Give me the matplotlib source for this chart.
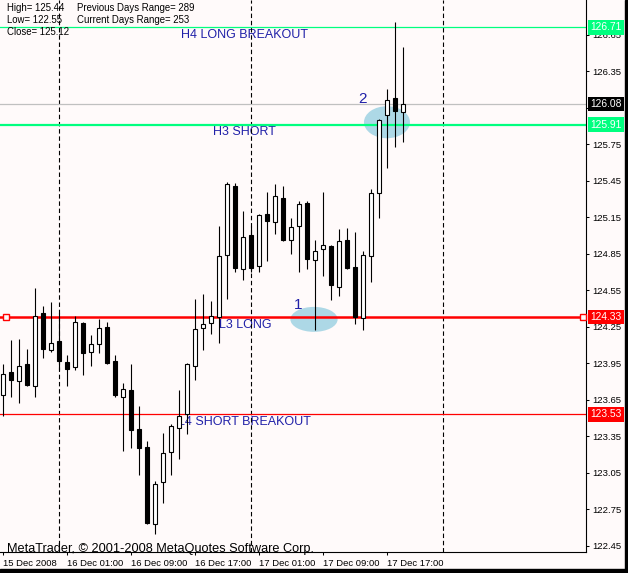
import matplotlib
matplotlib.use('Agg')
import matplotlib.pyplot as plt
from matplotlib.patches import Rectangle, Ellipse
import numpy as np

# ---------------- data ----------------
time_labels = ['15 Dec 2008', '16 Dec 01:00', '16 Dec 09:00', '16 Dec 17:00',
               '17 Dec 01:00', '17 Dec 09:00', '17 Dec 17:00']
label_bars = [0, 8, 16, 24, 32, 40, 48]
day_start_bars = [7, 31, 55]

opens = [123.69, 123.88, 123.80, 123.94, 123.76, 124.36, 124.06, 124.13, 123.96, 123.92,
         124.28, 124.04, 124.11, 124.25, 123.97, 123.67, 123.73, 123.41, 123.26, 122.63,
         122.97, 123.22, 123.42, 123.53, 123.93, 124.24, 124.28, 124.33, 124.84, 125.41,
         124.72, 125.00, 124.75, 125.18, 125.11, 125.31, 124.96, 125.08, 125.27, 124.80,
         124.89, 124.91, 124.58, 124.96, 124.74, 124.32, 124.83, 125.35, 125.99, 126.13,
         126.01]
highs = [123.94, 124.14, 124.15, 124.07, 124.57, 124.42, 124.45, 124.36, 124.02, 124.34,
         124.29, 124.18, 124.31, 124.29, 124.02, 123.79, 123.94, 123.60, 123.31, 122.98,
         123.38, 123.45, 123.73, 123.95, 124.48, 124.52, 124.46, 125.08, 125.44, 125.43,
         125.20, 125.08, 125.18, 125.36, 125.42, 125.41, 125.14, 125.28, 125.28, 124.96,
         125.36, 124.92, 125.05, 125.06, 125.03, 124.87, 125.38, 125.96, 126.20, 126.75,
         126.55]
lows = [123.52, 123.67, 123.62, 123.76, 123.67, 123.99, 124.04, 123.89, 123.76, 123.89,
        123.85, 123.93, 124.03, 123.94, 123.67, 123.23, 123.25, 123.03, 122.63, 122.55,
        122.80, 123.03, 123.16, 123.37, 123.81, 124.06, 124.19, 124.12, 124.48, 124.70,
        124.63, 124.70, 124.70, 124.79, 125.01, 124.95, 124.85, 124.70, 124.72, 124.22,
        124.67, 124.47, 124.50, 124.72, 124.27, 124.22, 124.62, 125.14, 125.55, 125.73,
        125.77]
closes = [123.86, 123.81, 123.93, 123.77, 124.34, 124.07, 124.12, 123.97, 123.90, 124.29,
          124.03, 124.11, 124.24, 123.95, 123.69, 123.74, 123.40, 123.25, 122.64, 122.96,
          123.21, 123.43, 123.52, 123.94, 124.23, 124.27, 124.34, 124.83, 125.42, 124.73,
          124.99, 124.73, 125.17, 125.12, 125.32, 124.96, 125.07, 125.26, 124.81, 124.87,
          124.92, 124.59, 124.95, 124.73, 124.33, 124.84, 125.35, 125.95, 126.11, 126.02,
          126.08]

level_prices = [126.71, 125.91, 124.33, 123.53]
level_names = ['H4 LONG BREAKOUT', 'H3 SHORT', 'L3 LONG', 'L4 SHORT BREAKOUT']
current_price = 126.08

prev_high, prev_low, prev_close = 125.44, 122.55, 125.12
prev_range, cur_range = 289, 253

price_ticks = [122.45, 122.75, 123.05, 123.35, 123.65, 123.95, 124.25, 124.55,
               124.85, 125.15, 125.45, 125.75, 126.05, 126.35, 126.65]

# marked zones (bar, price) and their numbers
zone_centers = [(38.84, 124.31), (47.96, 125.93)]
zone_sizes = [(5.9, 0.205), (5.75, 0.263)]
zone_marks = [('1', 36.84, 124.43), ('2', 44.9, 126.12)]

# ---------------- figure ----------------
W, H, DPI = 628, 573, 100
BG = '#FFFAFA'
BLUE = '#2020A8'
GREEN = '#00FF7F'
plt.rcParams['font.family'] = ['Liberation Sans', 'DejaVu Sans']

fig = plt.figure(figsize=(W / DPI, H / DPI), dpi=DPI, facecolor=BG)
ax = fig.add_axes([0, 21 / H, 586 / W, 552 / H], facecolor=BG)

ax.set_xlim(-0.4125, 72.84)
ax.set_ylim(122.3986, 126.9343)

for s in ['left', 'top']:
    ax.spines[s].set_visible(False)
for s in ['right', 'bottom']:
    ax.spines[s].set_linewidth(0.8)
    ax.spines[s].set_color('black')

ax.yaxis.tick_right()
ax.set_yticks(price_ticks)
ax.set_yticklabels(['%.2f' % p for p in price_ticks])
ax.set_xticks(label_bars)
ax.set_xticklabels(time_labels)
for lbl in ax.get_xticklabels():
    lbl.set_ha('left')
ax.tick_params(axis='both', direction='out', length=2.5, width=0.75,
               labelsize=6.8, colors='black')
ax.tick_params(axis='y', pad=2)
ax.tick_params(axis='x', pad=2.5)

# day separators
for d in day_start_bars:
    ax.axvline(d, color='black', lw=0.8, ls=(0, (4, 2.5)), zorder=1)

# zones
for (cx, cy), (w, h) in zip(zone_centers, zone_sizes):
    ax.add_patch(Ellipse((cx, cy), w, h, fc='#ADD8E6', ec='none', zorder=0.5))
for t, x, y in zone_marks:
    ax.text(x, y, t, fontsize=11, color=BLUE, ha='center', va='center', zorder=0.6)

# level lines
ax.axhline(level_prices[0], color=GREEN, lw=0.9, zorder=1.5)
ax.axhline(level_prices[1], color=GREEN, lw=1.6, zorder=1.5)
ax.axhline(level_prices[2], color='red', lw=1.8, zorder=1.5)
ax.axhline(level_prices[3], color='red', lw=0.9, zorder=1.5)
ax.axhline(current_price, color='#C0C0C0', lw=0.9, zorder=1.4)
ax.plot([5.8 / 586, 583 / 586], [level_prices[2]] * 2, ls='none', marker='s', ms=4,
        mfc=BG, mec='red', mew=1.0, transform=ax.get_yaxis_transform(), zorder=6,
        clip_on=False)

# level texts
for p, name in zip(level_prices, level_names):
    ax.annotate(name, xy=(30.2, p), xytext=(0, -5.5), textcoords='offset points',
                ha='center', va='center', fontsize=9, color=BLUE, zorder=0.7)

# candles
for i, (o, h, l, c) in enumerate(zip(opens, highs, lows, closes)):
    ax.vlines(i, l, h, color='black', lw=0.8, zorder=3)
    bull = c >= o
    ax.add_patch(Rectangle((i - 0.25, min(o, c)), 0.5, max(abs(c - o), 0.004),
                           fc='white' if bull else 'black', ec='black', lw=0.8, zorder=4))

# price boxes on axis
box_items = [(level_prices[0], GREEN), (current_price, 'black'),
             (level_prices[1], GREEN), (level_prices[2], 'red'), (level_prices[3], 'red')]
for p, col in box_items:
    ax.text(1.0 + 4 / 586, p, '%.2f' % p, transform=ax.get_yaxis_transform(),
            ha='left', va='center', fontsize=7.4, color='white', zorder=10, clip_on=False,
            bbox=dict(boxstyle='square,pad=0.22', fc=col, ec='none'))

# info text
def ftext(x, y, s, **kw):
    fig.text(x / W, 1 - y / H, s, **kw)

INFO_FS = 6.9
ftext(7, 8, 'High= %.2f' % prev_high, fontsize=INFO_FS, va='center')
ftext(77, 8, 'Previous Days Range= %d' % prev_range, fontsize=INFO_FS, va='center')
ftext(7, 20, 'Low= %.2f' % prev_low, fontsize=INFO_FS, va='center')
ftext(77, 20, 'Current Days Range= %d' % cur_range, fontsize=INFO_FS, va='center')
ftext(7, 32, 'Close= %.2f' % prev_close, fontsize=INFO_FS, va='center')
ftext(6.7, 552, 'MetaTrader, \u00a9 2001-2008 MetaQuotes Software Corp.', fontsize=9.2,
      va='baseline', color='black')

# window border strips
fig.add_artist(Rectangle((625 / W, 0), 3 / W, 1, transform=fig.transFigure,
                         color='black', zorder=20))
fig.add_artist(Rectangle((0, 0), 1, 4 / H, transform=fig.transFigure,
                         color='black', zorder=20))

fig.savefig('out.png', dpi=DPI, facecolor=BG)
